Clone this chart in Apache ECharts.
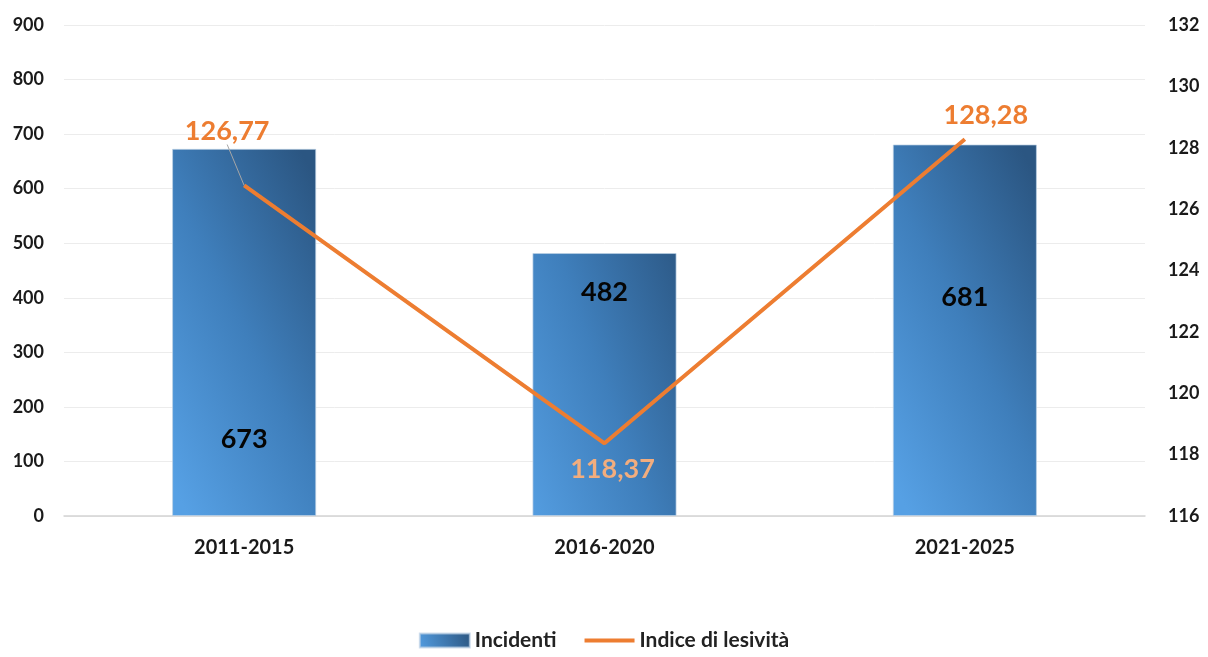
<!DOCTYPE html>
<html>
<head>
<meta charset="utf-8">
<style>
  html, body { margin: 0; padding: 0; background: #ffffff; }
  #chart { width: 1208px; height: 657px; }
</style>
<script src="https://cdn.jsdelivr.net/npm/echarts@6/dist/echarts.min.js"></script>
</head>
<body>
<div id="chart"></div>
<script>
// Periods on the x axis
const categories = ['2011-2015', '2016-2020', '2021-2025'];
// Number of accidents per period (left axis)
const incidenti = [673, 482, 681];
// Injury index per period (right axis)
const indiceLesivita = [126.77, 118.37, 128.28];

// Vertical placement of each bar's value label, as a share of the bar height
const barLabelY = ['79%', '15%', '41%'];
// Nudges for the index labels so they clear the line
const lineLabelShift = [[-17, -36], [8, 8], [21, -5]];

const FONT = 'Lato, "Open Sans", sans-serif';
const fmtIt = v => v.toFixed(2).replace('.', ',');

// Diagonal shading: light in the lower-left corner, dark in the upper-right one
const makeGradient = () => new echarts.graphic.LinearGradient(-0.32, 0.66, 1.32, 0.34, [
  { offset: 0, color: '#56a0e4' },
  { offset: 0.5, color: '#3f7fbc' },
  { offset: 1, color: '#2b5682' }
]);

// Thin horizontal stroke used as the legend mark of the line series
const lineIcon = 'path://M0,0 M0,5 L50,5 L50,9 L0,9 Z M50,14';

const chart = echarts.init(document.getElementById('chart'));
chart.setOption({
  animation: false,
  textStyle: { fontFamily: FONT },
  grid: { left: 64, right: 63, top: 25, bottom: 141 },
  legend: {
    bottom: 1,
    left: 'center',
    itemWidth: 50,
    itemHeight: 14,
    itemGap: 28,
    textStyle: { fontFamily: FONT, fontWeight: 'bold', fontSize: 21, color: '#222222' },
    data: [
      { name: 'Incidenti', icon: 'rect', itemStyle: { color: new echarts.graphic.LinearGradient(0, 1, 1, 0, [
        { offset: 0, color: '#529ce0' }, { offset: 1, color: '#2c5681' }]) } },
      { name: 'Indice di lesività', icon: lineIcon, itemStyle: { color: '#ed7d31' } }
    ]
  },
  xAxis: {
    type: 'category',
    data: categories,
    axisTick: { show: false },
    axisLine: { lineStyle: { color: '#d4d4d4', width: 1.5 } },
    axisLabel: { margin: 22, color: '#1a1a1a', fontFamily: FONT, fontWeight: 'bold', fontSize: 20 }
  },
  yAxis: [
    {
      type: 'value', min: 0, max: 900, interval: 100,
      axisLine: { show: false }, axisTick: { show: false },
      splitLine: { lineStyle: { color: '#ececec', width: 1 } },
      axisLabel: { margin: 20, color: '#1a1a1a', fontFamily: FONT, fontWeight: 'bold', fontSize: 18 }
    },
    {
      type: 'value', min: 116, max: 132, interval: 2,
      axisLine: { show: false }, axisTick: { show: false },
      splitLine: { show: false },
      axisLabel: { margin: 23, color: '#1a1a1a', fontFamily: FONT, fontWeight: 'bold', fontSize: 18 }
    }
  ],
  series: [
    {
      name: 'Incidenti',
      type: 'bar',
      yAxisIndex: 0,
      barWidth: '40%',
      itemStyle: { color: makeGradient(), borderColor: 'rgba(190,210,230,0.7)', borderWidth: 1 },
      data: incidenti.map((v, i) => ({
        value: v,
        label: {
          show: true,
          position: ['50%', barLabelY[i]],
          align: 'center',
          verticalAlign: 'middle',
          color: '#050505',
          fontFamily: FONT,
          fontWeight: 'bold',
          fontSize: 27
        }
      })),
      z: 2
    },
    {
      name: 'Indice di lesività',
      type: 'line',
      yAxisIndex: 1,
      symbol: 'circle',
      symbolSize: 0.01,
      showSymbol: true,
      lineStyle: { color: '#ed7d31', width: 4 },
      itemStyle: { color: '#ed7d31' },
      label: {
        show: true,
        position: 'top',
        distance: 5,
        color: '#ed7d31',
        fontFamily: FONT,
        fontWeight: 'bold',
        fontSize: 27,
        formatter: p => fmtIt(p.value)
      },
      labelLine: { show: true, lineStyle: { color: '#a6a6a6', width: 1 } },
      labelLayout: p => ({ dx: lineLabelShift[p.dataIndex][0], dy: lineLabelShift[p.dataIndex][1] }),
      data: indiceLesivita.map((v, i) => {
        const item = { value: v };
        if (i === 1) {
          item.label = { position: 'bottom', color: '#f2ad7e' };
        }
        if (i !== 0) {
          item.labelLine = { show: false };
        }
        return item;
      }),
      z: 3
    }
  ]
});
</script>
</body>
</html>
